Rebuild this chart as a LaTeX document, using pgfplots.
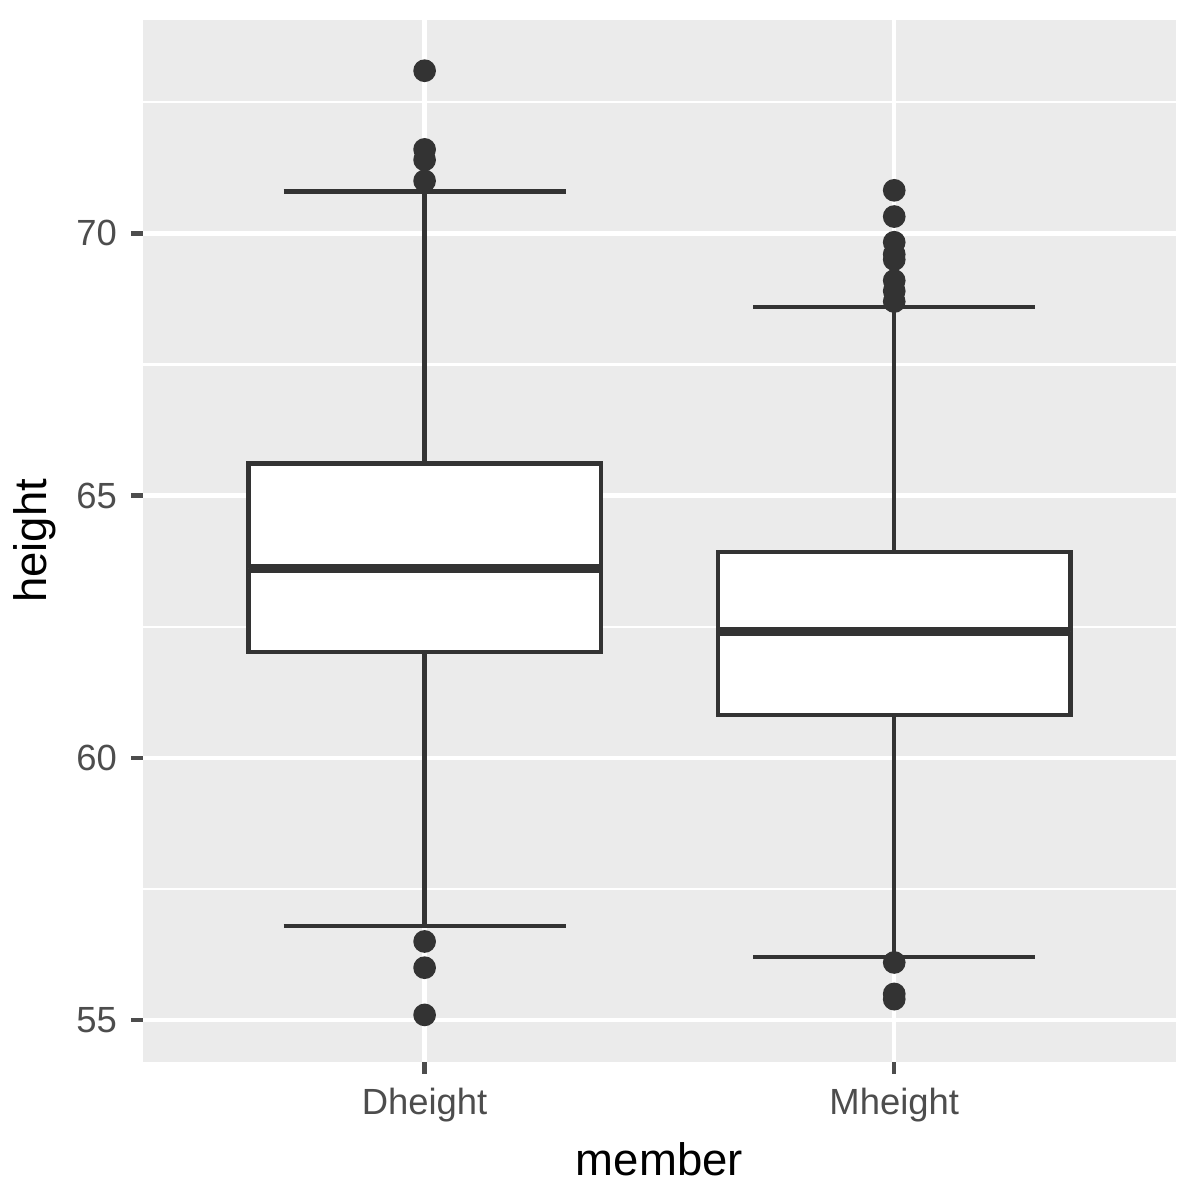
\documentclass[border=0pt]{standalone}
\usepackage{pgfplots}
\pgfplotsset{compat=1.18}
\usepgfplotslibrary{statistics}
\usetikzlibrary{calc}
\usepackage{fontspec}
\setmainfont{Liberation Sans}
\definecolor{panel}{HTML}{EBEBEB}
\definecolor{ink}{HTML}{333333}
\definecolor{tickc}{HTML}{4D4D4D}
\begin{document}
\begin{tikzpicture}
\begin{axis}[name=ax,
  width=249.7pt, height=251.9pt, scale only axis,
  xmin=0.4, xmax=2.6, ymin=54.2, ymax=74.07,
  axis background/.style={fill=panel},
  axis line style={draw=none},
  xtick={1,2}, xticklabels={Dheight,Mheight},
  ytick={55,60,65,70}, minor ytick={57.5,62.5,67.5,72.5},
  grid=both,
  major grid style={white, line width=1.07pt},
  minor grid style={white, line width=0.53pt},
  tick align=outside, tick pos=left,
  major tick length=2.75pt, minor tick length=0pt,
  major tick style={tickc, line width=1.07pt},
  ticklabel style={font=\fontsize{8.8}{10}\selectfont, text=tickc},
  /pgf/number format/assume math mode=true,
  xlabel={member}, ylabel={height},
  label style={font=\fontsize{11}{13}\selectfont},
  xlabel style={yshift=2pt},
  ylabel style={yshift=-2pt},
  boxplot/draw direction=y,
  boxplot/box extend=0.75,
]
\addplot+[ink, fill=white, line width=1.07pt, solid,
  mark=*, mark size=2.2pt, mark options={fill=ink, draw=ink},
  boxplot prepared={median=63.61, upper quartile=65.61, lower quartile=62.02,
    upper whisker=70.8, lower whisker=56.8, draw position=1},
  boxplot/every median/.style={line width=2.13pt}]
  table[row sep=\\, y index=0]{73.1\\71.6\\71.4\\71.0\\56.5\\56.0\\55.1\\};
\addplot+[ink, fill=white, line width=1.07pt, solid,
  mark=*, mark size=2.2pt, mark options={fill=ink, draw=ink},
  boxplot prepared={median=62.41, upper quartile=63.92, lower quartile=60.82,
    upper whisker=68.6, lower whisker=56.2, draw position=2},
  boxplot/every median/.style={line width=2.13pt}]
  table[row sep=\\, y index=0]{70.82\\70.32\\69.83\\69.6\\69.5\\69.1\\68.9\\68.7\\56.1\\55.5\\55.4\\};
\end{axis}
\path ($(ax.south west)+(-33.7pt,-32.5pt)$) rectangle ($(ax.north east)+(5.8pt,4.8pt)$);
\end{tikzpicture}
\end{document}
